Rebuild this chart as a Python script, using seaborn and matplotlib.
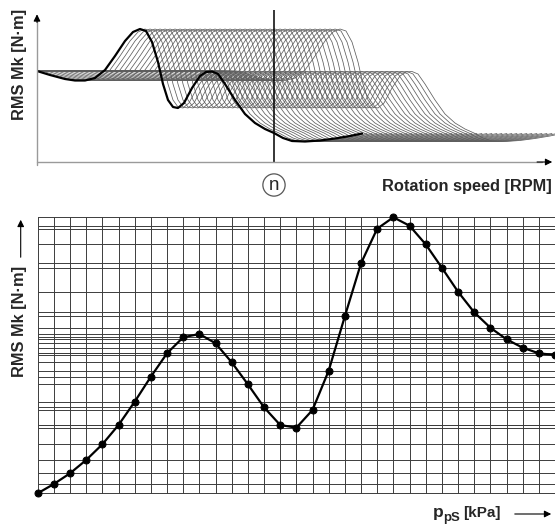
import numpy as np
import pandas as pd
import seaborn as sns
from matplotlib import pyplot as plt

# top panel: base RMS curve vs rotation speed (arbitrary units)
BASE_SPEED = [0, 13, 28, 38, 48, 58, 68, 78, 88, 96, 103, 109, 115, 121, 126, 131, 136, 141,
              147, 155, 163, 169, 175, 181, 188, 198, 208, 218, 228, 237, 246, 255, 268, 283,
              298, 313, 325]
BASE_RMS = [91, 87, 83, 81.5, 81.5, 84, 92, 106, 121, 130, 133, 131, 120, 100, 78, 62, 55, 54,
            59, 74, 86, 90, 90.5, 88, 78, 62, 48, 39, 33, 29, 24, 21, 20.5, 21.5, 23.5, 26, 28.5]
SPEED_SHIFTS = [5 * k for k in range(1, 41)]
MARK_SPEED = 237

# bottom panel: RMS vs p_pS, one value per grid column
PPS_STEP = list(range(33))
PPS_RMS = [0.7, 10, 20.7, 34, 49.7, 69, 92.3, 117.3, 140.7, 156.7, 160, 150.7, 131.7, 109.7,
           86.7, 69, 66.3, 84, 123.3, 177.7, 230.7, 265.3, 276.7, 268.3, 249.7, 226.3, 202.3,
           181.7, 166.3, 154.7, 146.3, 140.7, 139]

W, H = 555, 526

sns.set_style("white")
plt.rcParams["font.family"] = ["Liberation Sans", "DejaVu Sans"]

fig = plt.figure(figsize=(W / 100, H / 100), dpi=100)


def frac(px, py):
    return px / W, 1 - py / H


# ---------------- top panel ----------------
ax1 = fig.add_axes([37 / W, 1 - 162 / H, (W - 37) / W, (162 - 10) / H])

rows = []
for k, s in enumerate(SPEED_SHIFTS):
    xs = [0] + [v + s for v in BASE_SPEED]
    ys = [BASE_RMS[0]] + BASE_RMS
    rows.append(pd.DataFrame({"speed": xs, "rms": ys, "copy": k}))
copies = pd.concat(rows, ignore_index=True)

sns.lineplot(data=copies, x="speed", y="rms", units="copy", estimator=None, sort=False,
             color="#5e5e5e", lw=0.55, ax=ax1, legend=False)
base = pd.DataFrame({"speed": BASE_SPEED, "rms": BASE_RMS})
sns.lineplot(data=base, x="speed", y="rms", sort=False, estimator=None,
             color="black", lw=1.6, ax=ax1)
ax1.axvline(MARK_SPEED, color="black", lw=1.1)

ax1.set_xlim(0, W - 37)
ax1.set_ylim(0, 152)
ax1.set(xlabel=None, ylabel=None, xticks=[], yticks=[])
for sp in ax1.spines.values():
    sp.set_visible(False)

# axis lines with arrow heads
ax1.plot([0, 0], [-0.02, 0.96], transform=ax1.transAxes, color="#9a9a9a", lw=1.0, clip_on=False)
ax1.annotate("", xy=(0, 0.99), xytext=(0, 0.90), xycoords="axes fraction",
             arrowprops=dict(arrowstyle="-|>", color="black", lw=0.8, mutation_scale=10))
ax1.plot([0, 0.975], [0, 0], transform=ax1.transAxes, color="#9a9a9a", lw=1.0, clip_on=False)
ax1.annotate("", xy=(1.0, 0), xytext=(0.96, 0), xycoords="axes fraction",
             arrowprops=dict(arrowstyle="-|>", color="black", lw=0.8, mutation_scale=10))

fig.text(*frac(20, 64), "RMS Mk [N·m]", rotation=90, fontsize=11.8, fontweight="bold",
         ha="center", va="center")
fig.text(*frac(552, 186), "Rotation speed [RPM]", fontsize=11.8, fontweight="bold",
         ha="right", va="center")
fig.text(*frac(274, 185), "n", fontsize=13.5, ha="center", va="center",
         bbox=dict(boxstyle="circle,pad=0.14", fc="white", ec="#555555", lw=0.9))

# ---------------- bottom panel ----------------
ax2 = fig.add_axes([37.7 / W, 1 - 494 / H, (W - 37.7) / W, (494 - 217) / H])

for x in PPS_STEP:
    ax2.axvline(x, color="#3c3c3c", lw=0.7, zorder=1)
for y in PPS_RMS:
    ax2.axhline(y, color="#3c3c3c", lw=0.7, zorder=1)

curve = pd.DataFrame({"step": PPS_STEP, "rms": PPS_RMS})
sns.lineplot(data=curve, x="step", y="rms", color="black", lw=1.6, marker="o",
             markersize=5, markeredgecolor="black", ax=ax2, zorder=3, clip_on=False)
ax2.set_xlim(0, 32)
ax2.set_ylim(0, 277)
ax2.set(xlabel=None, ylabel=None, xticks=[], yticks=[])
for sp in ax2.spines.values():
    sp.set_visible(False)

fig.text(*frac(20, 321), "RMS Mk [N·m]", rotation=90, fontsize=11.8, fontweight="bold",
         ha="center", va="center")
fig.add_artist(plt.matplotlib.patches.FancyArrowPatch(
    frac(20.7, 260), frac(20.7, 217), transform=fig.transFigure,
    arrowstyle="-|>", mutation_scale=10, color="black", lw=0.8))

# x label p_pS [kPa] built from pieces so the subscript stays large
fig.text(*frac(433, 517), "p", fontsize=12.5, fontweight="bold", ha="left", va="baseline")
fig.text(*frac(443, 521), "pS", fontsize=9.5, fontweight="bold", ha="left", va="baseline")
fig.text(*frac(463, 517), "[kPa]", fontsize=11, fontweight="bold", ha="left", va="baseline")
fig.add_artist(plt.matplotlib.patches.FancyArrowPatch(
    frac(512, 514), frac(554, 514), transform=fig.transFigure,
    arrowstyle="-|>", mutation_scale=10, color="black", lw=0.8))

fig.savefig("out.png", dpi=100)
